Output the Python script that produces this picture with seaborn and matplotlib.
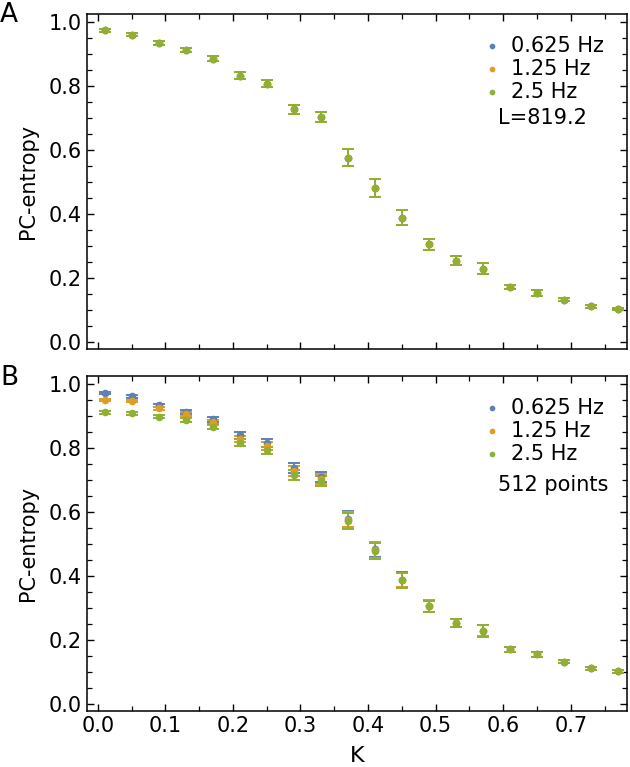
import matplotlib.pyplot as plt
import numpy as np
import pandas as pd
import seaborn as sns
from matplotlib.ticker import MultipleLocator

# %% data
k_values = [0.01, 0.05, 0.09, 0.13, 0.17, 0.21, 0.25, 0.29, 0.33, 0.37,
            0.41, 0.45, 0.49, 0.53, 0.57, 0.61, 0.65, 0.69, 0.73, 0.77]
freqs = ["0.625 Hz", "1.25 Hz", "2.5 Hz"]
freq_colors = ["#5e81b5", "#e19c24", "#8fb032"]

# panel A, L=819.2 (the three frequencies lie on top of each other)
a_mean = [0.975, 0.962, 0.936, 0.915, 0.887, 0.834, 0.809, 0.728, 0.705, 0.577,
          0.482, 0.390, 0.307, 0.255, 0.230, 0.172, 0.155, 0.133, 0.112, 0.104]
a_err = [0.004, 0.004, 0.005, 0.006, 0.008, 0.010, 0.012, 0.015, 0.016, 0.026,
         0.027, 0.024, 0.017, 0.014, 0.018, 0.007, 0.009, 0.005, 0.005, 0.004]

# panel B, 512 points
b_mean_0625 = [0.974, 0.963, 0.935, 0.915, 0.891, 0.841, 0.818, 0.738, 0.710, 0.579,
               0.484, 0.390, 0.307, 0.255, 0.230, 0.172, 0.156, 0.133, 0.112, 0.103]
b_mean_125 = [0.951, 0.948, 0.925, 0.908, 0.882, 0.830, 0.807, 0.729, 0.705, 0.577,
              0.482, 0.389, 0.307, 0.255, 0.230, 0.172, 0.156, 0.133, 0.112, 0.103]
b_mean_25 = [0.913, 0.910, 0.899, 0.888, 0.868, 0.818, 0.794, 0.716, 0.697, 0.573,
             0.480, 0.388, 0.306, 0.255, 0.229, 0.172, 0.156, 0.133, 0.112, 0.103]
b_err = [0.004, 0.004, 0.005, 0.006, 0.008, 0.010, 0.012, 0.015, 0.016, 0.024,
         0.025, 0.023, 0.018, 0.013, 0.018, 0.008, 0.009, 0.005, 0.004, 0.004]

panels = [
    ("A", "L=819.2", [a_mean, a_mean, a_mean], a_err),
    ("B", "512 points", [b_mean_0625, b_mean_125, b_mean_25], b_err),
]

# %% style
sns.set_style("ticks")
plt.rcParams.update({
    "font.family": "DejaVu Sans",
    "font.size": 15,
    "text.color": "black",
    "axes.labelcolor": "black",
    "axes.edgecolor": "black",
    "xtick.color": "black",
    "ytick.color": "black",
    "axes.linewidth": 1.1,
    "xtick.direction": "in",
    "ytick.direction": "in",
    "xtick.top": True,
    "ytick.right": True,
})

fig = plt.figure(figsize=(6.3, 7.67), dpi=100)
ax_a = fig.add_axes([0.138, 0.545, 0.857, 0.437])
ax_b = fig.add_axes([0.138, 0.073, 0.857, 0.437])

for ax, (letter, note, means, err) in zip([ax_a, ax_b], panels):
    for freq, color, mean in zip(freqs, freq_colors, means):
        df = pd.DataFrame({"K": k_values, "S": mean, "err": err})
        ax.errorbar(df.K, df.S, yerr=df.err, fmt="none", ecolor=color,
                    elinewidth=1.4, capsize=4, capthick=1.4, zorder=2)
        sns.scatterplot(data=df, x="K", y="S", color=color, s=30,
                        linewidth=0, label=freq, ax=ax, zorder=3)

    ax.set_xlim(-0.016, 0.783)
    ax.set_ylim(-0.021, 1.027)
    ax.xaxis.set_major_locator(MultipleLocator(0.1))
    ax.xaxis.set_minor_locator(MultipleLocator(0.05))
    ax.yaxis.set_major_locator(MultipleLocator(0.2))
    ax.yaxis.set_minor_locator(MultipleLocator(0.05))
    ax.tick_params(which="major", length=5, width=1.0, labelsize=15)
    ax.tick_params(which="minor", length=3.5, width=0.9)
    ax.set_ylabel("PC-entropy", fontsize=15, labelpad=8)
    ax.set_xlabel("")

    ax.legend(loc="upper right", bbox_to_anchor=(0.957, 0.935), frameon=False,
              borderpad=0, borderaxespad=0, handlelength=0.5, handletextpad=0.65,
              labelspacing=0.15, markerscale=0.75, fontsize=15)
    ax.text(0.762, 0.69 if letter == "A" else 0.673, note, transform=ax.transAxes,
            fontsize=15, ha="left", va="center")

ax_a.tick_params(labelbottom=False)
ax_b.set_xlabel("K", fontsize=16, labelpad=7)

fig.text(0.0, 0.997, "A", fontsize=19, ha="left", va="top")
fig.text(0.0, 0.524, "B", fontsize=19, ha="left", va="top")

fig.savefig("out.png", dpi=100)
